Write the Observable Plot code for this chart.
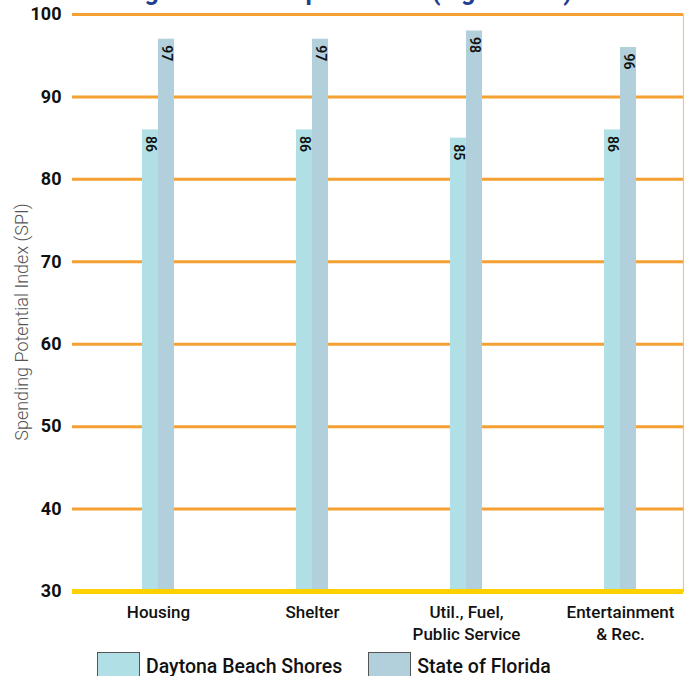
<!DOCTYPE html>
<html>
<head>
<meta charset="utf-8">
<script src="https://cdn.jsdelivr.net/npm/d3@7"></script>
<script src="https://cdn.jsdelivr.net/npm/@observablehq/plot@0.6"></script>
<style>
  html, body { margin: 0; padding: 0; background: #fff; }
  #wrap { position: relative; width: 684px; height: 676px; overflow: hidden; font-family: Roboto, "Noto Sans", sans-serif; }
  #title { position: absolute; left: 32px; top: -21px; line-height: 25px; font-size: 25px; font-weight: 700; color: #213f8f; white-space: nowrap; }
  #chart { position: absolute; left: 0; top: 0; }
  #legend { position: absolute; left: 97px; top: 652px; display: flex; align-items: flex-start; }
  .item { display: flex; align-items: flex-start; }
  .swatch { width: 41px; height: 28px; border: 1.5px solid #555; box-sizing: content-box; }
  .label { font-size: 19.5px; font-weight: 500; color: #111; margin-left: 6px; margin-top: 2px; line-height: 26px; }
</style>
</head>
<body>
<div id="wrap">
  <div id="title"></div>
  <div id="chart"></div>
  <div id="legend"></div>
</div>
<script>
// Spending categories and the SPI for each geography
const titleText = "Other Budget Related Expenditures (Figure 15A)";
const categories = ["Housing", "Shelter", "Util., Fuel,\nPublic Service", "Entertainment\n& Rec."];
const seriesNames = ["Daytona Beach Shores", "State of Florida"];
const daytona = [86, 86, 85, 86];
const florida = [97, 97, 98, 96];
const yTicks = [30, 40, 50, 60, 70, 80, 90, 100];
const yLabel = "Spending Potential Index (SPI)";
const seriesColors = ["#b0e0e6", "#b1d0dc"];

const rows = categories.flatMap((c, i) => [
  {category: c, series: seriesNames[0], value: daytona[i]},
  {category: c, series: seriesNames[1], value: florida[i]}
]);
const rowsA = rows.filter(d => d.series === seriesNames[0]);
const rowsB = rows.filter(d => d.series === seriesNames[1]);

document.getElementById("title").textContent = titleText;

// value labels run down from the top of each bar
const valueLabel = {text: d => String(d.value), rotate: 90, textAnchor: "start", dy: 6, fontSize: 14, fontWeight: 600, fill: "#111"};

const chart = Plot.plot({
  width: 684,
  height: 645,
  marginTop: 14,
  marginBottom: 54,
  marginLeft: 72,
  marginRight: 1,
  style: {fontFamily: "Roboto, 'Noto Sans', sans-serif", color: "#111", background: "transparent"},
  x: {type: "band", domain: categories, range: [81, 697], padding: 0},
  y: {domain: [30, 100]},
  color: {domain: seriesNames, range: seriesColors},
  marks: [
    Plot.ruleY(yTicks.slice(1), {stroke: "#f5a033", strokeWidth: 3}),
    Plot.frame({anchor: "right", stroke: "#f8c07f", strokeWidth: 1.2}),
    Plot.barY(rowsA, {x: "category", y1: 30, y2: "value", fill: "series", insetLeft: 61, insetRight: 77}),
    Plot.barY(rowsB, {x: "category", y1: 30, y2: "value", fill: "series", insetLeft: 77, insetRight: 61}),
    Plot.ruleY([30], {stroke: "#ffd100", strokeWidth: 5}),
    Plot.text(rowsA, {x: "category", y: "value", dx: -8, ...valueLabel}),
    Plot.text(rowsB, {x: "category", y: "value", dx: 8, ...valueLabel}),
    Plot.axisY({ticks: yTicks, tickSize: 0, tickPadding: 11, fontSize: 18, fontWeight: "bold", label: null}),
    Plot.axisX({tickSize: 0, tickPadding: 12, fontSize: 17, fontWeight: 500, lineHeight: 1.24, label: null}),
    Plot.text([yLabel], {frameAnchor: "left", textAnchor: "middle", dx: -50, dy: 19, rotate: -90, fontSize: 18, fontWeight: 300, fill: "#555"})
  ]
});
document.getElementById("chart").appendChild(chart);

// Legend built from the same series names and colours
const legend = document.getElementById("legend");
seriesNames.forEach((name, i) => {
  const item = document.createElement("div");
  item.className = "item";
  item.style.marginRight = i === 0 ? "26px" : "0";
  const sw = document.createElement("div");
  sw.className = "swatch";
  sw.style.background = seriesColors[i];
  const lab = document.createElement("div");
  lab.className = "label";
  lab.textContent = name;
  item.appendChild(sw);
  item.appendChild(lab);
  legend.appendChild(item);
});
</script>
</body>
</html>
